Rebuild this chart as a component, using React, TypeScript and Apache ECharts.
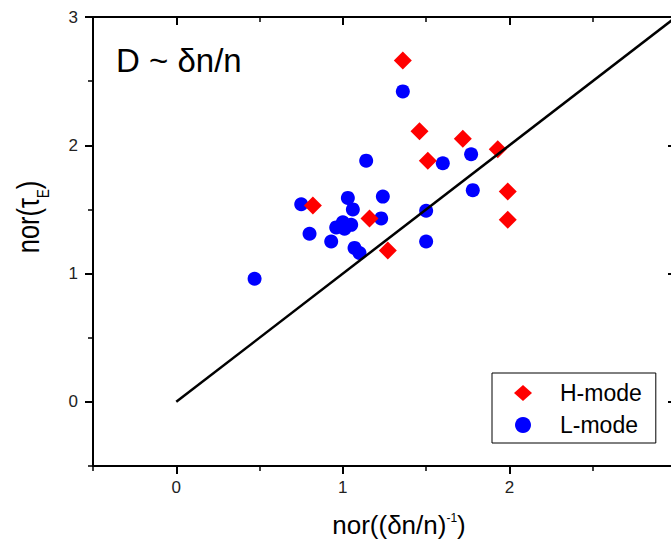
import React, { useEffect, useRef } from "react";
import * as echarts from "echarts";

// ---- data ----
const hModeX = [1.36, 1.46, 1.72, 1.93, 1.51, 1.99, 1.99, 0.82, 1.16, 1.27];
const hModeY = [2.66, 2.11, 2.05, 1.97, 1.88, 1.64, 1.42, 1.53, 1.43, 1.18];

const lModeX = [1.36, 1.14, 1.6, 1.77, 1.78, 1.5, 1.5, 1.24, 1.23, 0.75, 0.8, 0.93, 1.03, 1.06, 0.96, 1.0, 1.05, 1.01, 1.07, 1.1, 0.47];
const lModeY = [2.42, 1.88, 1.86, 1.93, 1.65, 1.49, 1.25, 1.6, 1.43, 1.54, 1.31, 1.25, 1.59, 1.5, 1.36, 1.4, 1.38, 1.35, 1.2, 1.16, 0.96];

const fitLineX = [0, 3];
const fitLineY = [0, 3];

const majorTicks = [0, 1, 2, 3];
const minorTicks = [-0.5, 0.5, 1.5, 2.5];
const xTickLabels = [0, 1, 2];
const yTickLabels = [0, 1, 2, 3];

const seriesNames = ["H-mode", "L-mode"];

const FONT = '"Liberation Sans", Arial, Helvetica, sans-serif';

const zip = (xs: number[], ys: number[]) => xs.map((x, i) => [x, ys[i]]);

function makeAxis(position: string, ticks: number[], tickLen: number, inside: boolean, showLine: boolean, labels: number[] | null, tickWidth: number) {
  const isX = position === "top" || position === "bottom";
  return {
    type: "value",
    position,
    min: -0.5,
    max: 3,
    interval: 0.5,
    splitLine: { show: false },
    axisLine: { show: showLine, onZero: false, lineStyle: { color: "#000", width: 2 } },
    axisTick: {
      show: true,
      inside,
      length: tickLen,
      customValues: ticks,
      lineStyle: { color: "#000", width: tickWidth },
    },
    axisLabel: labels
      ? {
          show: true,
          customValues: labels,
          margin: isX ? 13 : 15,
          fontSize: 17,
          fontFamily: FONT,
          color: "#222",
        }
      : { show: false },
  };
}

export default function App() {
  const ref = useRef<HTMLDivElement>(null);

  useEffect(() => {
    if (!ref.current) return;
    const chart = echarts.init(ref.current, null, { renderer: "svg" });

    const option = {
      animation: false,
      backgroundColor: "#fff",
      grid: { left: 93, top: 17, width: 583, height: 449, containLabel: false, outerBoundsMode: "none" },
      xAxis: [
        makeAxis("bottom", majorTicks, 8, false, true, xTickLabels, 2),
        makeAxis("bottom", minorTicks, 5, false, false, null, 1.5),
        makeAxis("top", majorTicks, 8, true, true, null, 2),
        makeAxis("top", minorTicks, 5, true, false, null, 1.5),
      ],
      yAxis: [
        makeAxis("left", majorTicks, 8, false, true, yTickLabels, 2),
        makeAxis("left", minorTicks, 5, false, false, null, 1.5),
        makeAxis("right", majorTicks, 8, true, true, null, 2),
        makeAxis("right", minorTicks, 5, true, false, null, 1.5),
      ],
      legend: {
        data: seriesNames,
        orient: "vertical",
        left: 492,
        top: 373,
        padding: [8, 14, 6, 22],
        itemWidth: 18,
        itemHeight: 16,
        itemGap: 8,
        borderColor: "#000",
        borderWidth: 1,
        backgroundColor: "#fff",
        textStyle: {
          fontSize: 23,
          lineHeight: 24,
          fontFamily: FONT,
          color: "#000",
          padding: [0, 0, 0, 23],
        },
      },
      series: [
        {
          name: "L-mode",
          type: "scatter",
          xAxisIndex: 0,
          yAxisIndex: 0,
          symbol: "circle",
          symbolSize: 14,
          itemStyle: { color: "#0000ff", opacity: 1 },
          data: zip(lModeX, lModeY),
          z: 2,
        },
        {
          name: "H-mode",
          type: "scatter",
          xAxisIndex: 0,
          yAxisIndex: 0,
          symbol: "diamond",
          symbolSize: 18,
          itemStyle: { color: "#ff0000", opacity: 1 },
          data: zip(hModeX, hModeY),
          z: 3,
        },
        {
          name: "fit",
          type: "line",
          xAxisIndex: 0,
          yAxisIndex: 0,
          symbol: "none",
          showSymbol: false,
          silent: true,
          lineStyle: { color: "#000", width: 2.5 },
          data: zip(fitLineX, fitLineY),
          z: 4,
        },
      ],
      graphic: [
        {
          type: "text",
          x: 116,
          y: 60,
          style: {
            text: "D ~ δn/n",
            fill: "#000",
            fontSize: 33,
            fontFamily: FONT,
            textAlign: "left",
            textVerticalAlign: "middle",
          },
        },
        {
          type: "text",
          x: 399,
          y: 525,
          style: {
            text: "{m|nor((δn/n)}{s|-1}{m|)}",
            fill: "#000",
            textAlign: "center",
            textVerticalAlign: "middle",
            rich: {
              m: { fontSize: 26, lineHeight: 26, fontFamily: FONT, fill: "#000" },
              s: { fontSize: 12, lineHeight: 8, fontFamily: FONT, fill: "#000", verticalAlign: "top" },
            },
          },
        },
        {
          type: "text",
          x: 28,
          y: 217,
          rotation: Math.PI / 2,
          scaleX: 0.82,
          style: {
            text: "{m|nor(τ}{s|E}{m|)}",
            fill: "#000",
            textAlign: "center",
            textVerticalAlign: "middle",
            rich: {
              m: { fontSize: 31, lineHeight: 48, fontFamily: FONT, fill: "#000" },
              s: { fontSize: 16, lineHeight: 16, fontFamily: FONT, fill: "#000", verticalAlign: "bottom" },
            },
          },
        },
      ],
    };

    chart.setOption(option as any);
    return () => chart.dispose();
  }, []);

  return (
    <div
      ref={ref}
      style={{ position: "fixed", left: 0, top: 0, width: 671, height: 540, background: "#fff" }}
    />
  );
}
